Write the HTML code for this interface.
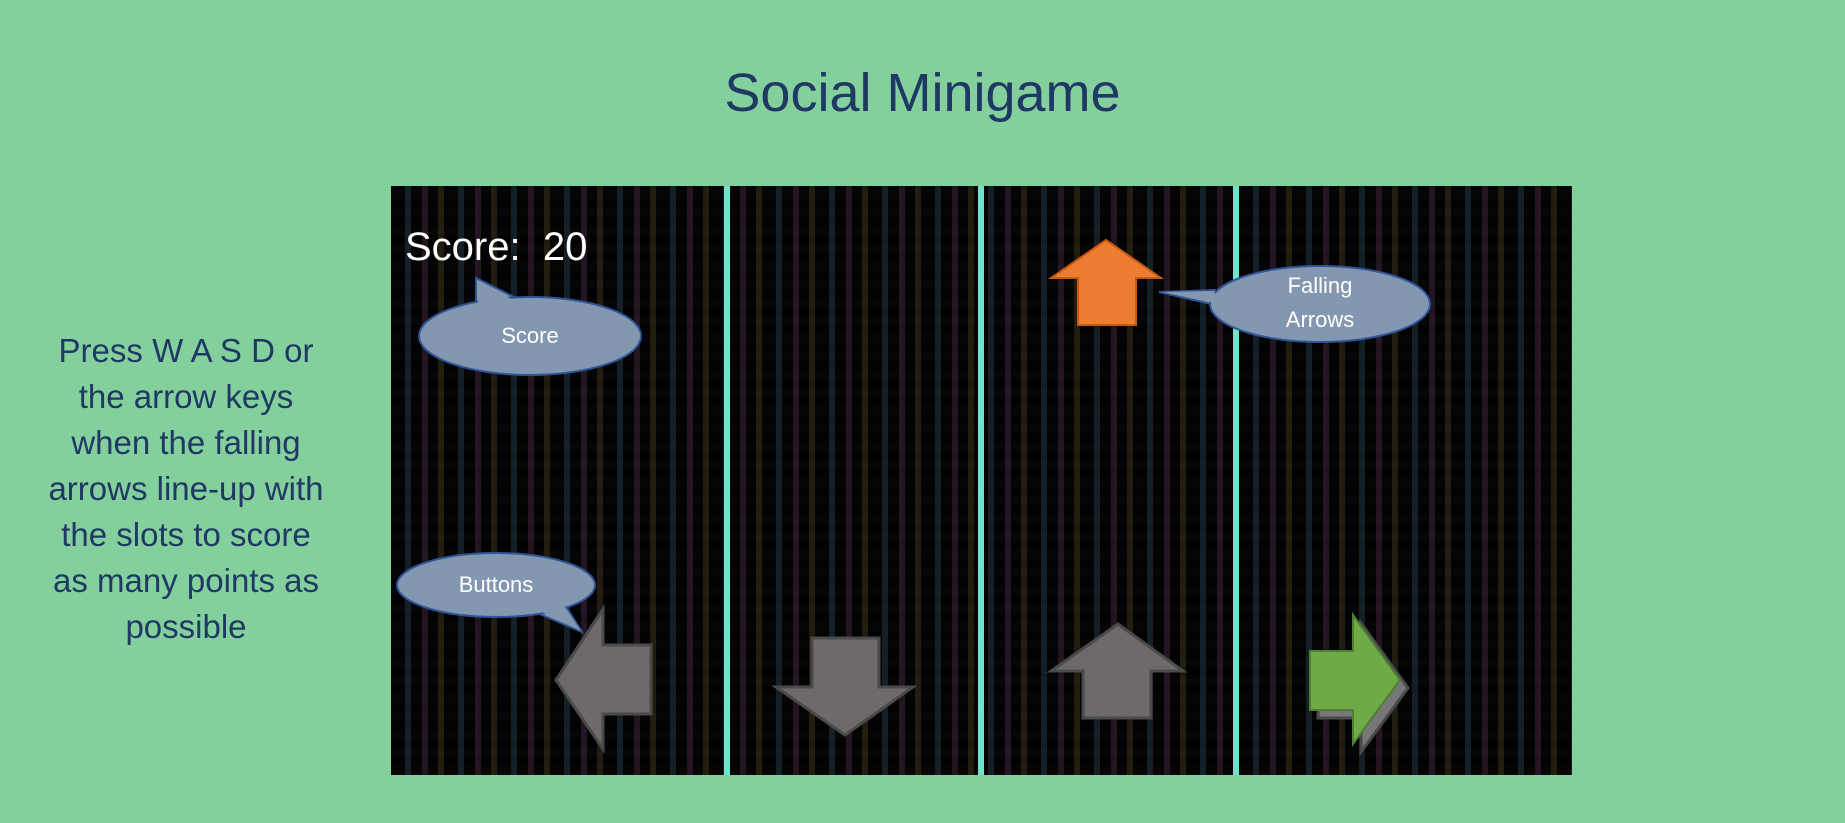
<!DOCTYPE html>
<html><head><meta charset="utf-8"><style>
html,body{margin:0;padding:0}
body{width:1845px;height:823px;background:#83d09c;position:relative;overflow:hidden;font-family:"Comic Sans MS","Liberation Sans",sans-serif}
.title{position:absolute;left:0;width:1845px;top:62px;text-align:center;font-size:54px;color:#1f3864}
.left{position:absolute;left:0;width:372px;top:328px;text-align:center;font-size:33px;line-height:46px;color:#1f3864}
.panel{position:absolute;top:186px;height:589px;background:#050505;
background-image:
repeating-linear-gradient(90deg,rgba(0,0,0,0) 0 14px,rgba(70,110,140,.25) 14px 20px,rgba(0,0,0,0) 20px 31px,rgba(150,80,140,.22) 31px 37px,rgba(0,0,0,0) 37px 47px,rgba(150,130,60,.2) 47px 53px),
repeating-linear-gradient(0deg,rgba(0,0,0,0) 0 9px,rgba(0,0,0,.5) 9px 18px);}
.sep{position:absolute;top:186px;height:589px;background:#6fe3cc}
</style></head><body>
<div class="title">Social Minigame</div>
<div class="left">Press W A S D or<br>the arrow keys<br>when the falling<br>arrows line-up with<br>the slots to score<br>as many points as<br>possible</div>
<div class="panel" style="left:391px;width:1181px"></div>
<div class="sep" style="left:724px;width:6px"></div>
<div class="sep" style="left:978px;width:6px"></div>
<div class="sep" style="left:1233px;width:6px"></div>
<svg width="1845" height="823" style="position:absolute;left:0;top:0">
<g stroke="#4a4a4a" stroke-width="3" fill="#6e6a69">
<polygon points="556,680 603,609 603,645 651,645 651,714 603,714 603,749"/>
<polygon points="812,638 879,638 879,687 913,687 845,735 776,687 812,687"/>
<polygon points="1118,624 1183,671 1151,671 1151,718 1083,718 1083,671 1051,671"/>
<polygon points="1318,659 1361,659 1361,623 1408,688 1361,752 1361,718 1318,718" fill="#777"/>
</g>
<polygon points="1310,651 1353,651 1353,615 1400,680 1353,744 1353,710 1310,710" fill="#6eaa46" stroke="#4e7f32" stroke-width="2"/>
<polygon points="1106,240 1161,278 1136,278 1136,325 1078,325 1078,278 1051,278" fill="#ed7d31" stroke="#c55a11" stroke-width="2"/>
<g fill="#8497b0" stroke="#2f5597" stroke-width="2">
<path d="M476,278 L476,305 L520,300 Z"/>
<ellipse cx="530" cy="336" rx="111" ry="39"/>
<path d="M582,632 L535,612 L565,605 Z"/>
<ellipse cx="496" cy="585" rx="99" ry="32"/>
<path d="M1159,292 L1215,290 L1220,306 Z"/>
<ellipse cx="1320" cy="304" rx="110" ry="38"/>
</g>
<g fill="#8497b0"><path d="M478,282 L478,306 L515,301 Z"/><path d="M581,631 L540,611 L563,604 Z"/><path d="M1162,292 L1214,291 L1219,304 Z"/></g>
<g font-family="Liberation Sans, sans-serif" fill="#fff" text-anchor="middle" font-size="22">
<text x="530" y="343">Score</text>
<text x="496" y="592">Buttons</text>
<text x="1320" y="293">Falling</text>
<text x="1320" y="327">Arrows</text>
<text x="405" y="260" text-anchor="start" font-size="40" xml:space="preserve">Score:  20</text>
</g>
</svg>
</body></html>
